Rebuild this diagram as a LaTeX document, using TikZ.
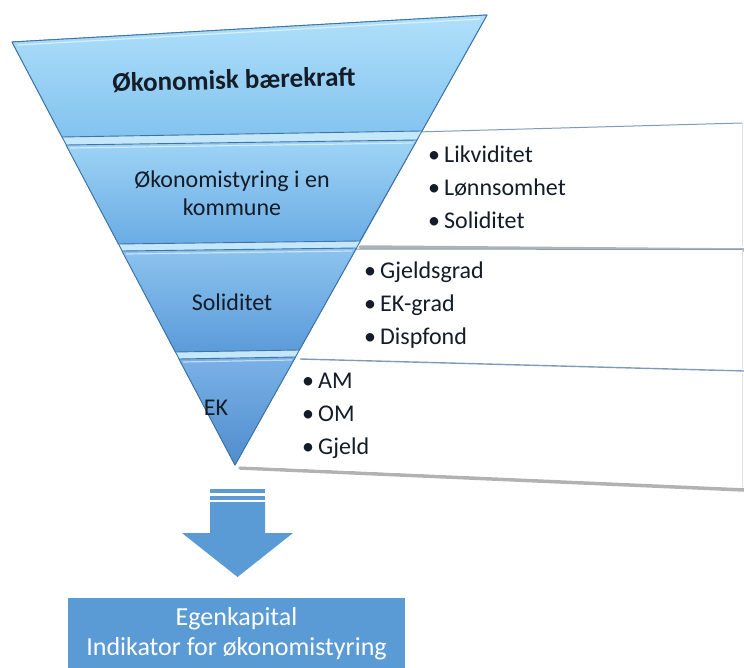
\documentclass[tikz,border=0pt]{standalone}
\usepackage{fontspec}
\setmainfont{Carlito}
\definecolor{bandline}{HTML}{3E73A8}
\definecolor{stripe}{HTML}{C4E7FA}
\definecolor{panelline}{HTML}{7E9BB8}
\definecolor{shadowgray}{HTML}{B2B2B2}
\definecolor{arrowblue}{HTML}{5B9BD5}
\definecolor{darktext}{HTML}{141C28}
\definecolor{bandAtop}{HTML}{B0E0FA}
\definecolor{bandAbot}{HTML}{82C3EF}
\definecolor{bandBtop}{HTML}{9FD4F5}
\definecolor{bandBbot}{HTML}{6AACE4}
\definecolor{bandCtop}{HTML}{8CC4EF}
\definecolor{bandCbot}{HTML}{5B9BD9}
\definecolor{bandDtop}{HTML}{7AB2E7}
\definecolor{bandDbot}{HTML}{518CCD}
\begin{document}
\begin{tikzpicture}[x=1pt,y=-1pt,line join=round,
  band/.style={draw=bandline,line width=0.9pt},
  bevel/.style={draw=white,opacity=0.55,line width=1.2pt},
  panelfill/.style={fill=white},
  paneledge/.style={draw=panelline,line width=1pt},
  shadowline/.style={draw=shadowgray,line width=3.5pt,line cap=round},
  levelText/.style={text=darktext,font=\fontsize{24}{28}\selectfont,align=center,inner sep=0pt},
  bulletList/.style={anchor=west,align=left,text=darktext,font=\fontsize{24}{33}\selectfont,inner sep=0pt},
  resultBox/.style={fill=arrowblue,text=white,minimum width=337pt,minimum height=72pt,
    inner sep=0pt,align=center,font=\fontsize{26}{30}\selectfont}]
\useasboundingbox (0,0) rectangle (744,668);
\newcommand\bul{\makebox[16pt][l]{\textbullet}}

% white side panels behind the funnel, with soft shadows
\draw[shadowline] (360,247) -- (744,250);
\fill[panelfill] (380,133) -- (742,123) -- (742,246) -- (350,244) -- cycle;
\draw[paneledge] (380,133) -- (742,123);
\draw[draw=gray!25,line width=0.6pt] (742,123) -- (742,246);
\draw[draw=panelline,line width=1.4pt] (300,359) -- (744,371);
\fill[panelfill] (320,249) -- (742,249) -- (742,369) -- (290,357) -- cycle;
\draw[paneledge] (330,249) -- (742,249.5);
\draw[draw=gray!25,line width=0.6pt] (742,250) -- (742,369);
\draw[shadowline] (240,468) -- (744,490);
\fill[panelfill] (260,361) -- (742,372) -- (742,487) -- (235,466) -- cycle;
\draw[draw=gray!25,line width=0.6pt] (742,373) -- (742,487);

% funnel body (its colour shows through the gaps between bands)
\filldraw[fill=stripe,draw=bandline,line width=0.9pt] (12,42) -- (487,15) -- (235,465) -- cycle;

% funnel bands
\path[band,top color=bandAtop,bottom color=bandAbot] (12,42) -- (487,15) -- (422,131) -- (62,137) -- cycle;
\path[band,top color=bandBtop,bottom color=bandBbot] (66,145) -- (417,140) -- (360,241) -- (118.5,244) -- cycle;
\path[band,top color=bandCtop,bottom color=bandCbot] (122,251) -- (356.5,248) -- (299.4,350) -- (175.4,352) -- cycle;
\path[band,top color=bandDtop,bottom color=bandDbot] (179,359) -- (295.5,357) -- (235,465) -- cycle;

% bevel highlights along the top of each band
\draw[bevel] (18,45) -- (480,19);
\draw[bevel] (70,148) -- (413,143);
\draw[bevel] (126,254) -- (352,251);
\draw[bevel] (183,362) -- (292,360);

% level labels
\node[levelText,font=\bfseries\fontsize{27}{30}\selectfont,rotate=1.5] (lvlA) at (234,80) {Økonomisk bærekraft};
\node[levelText] (lvlB) at (232,193) {Økonomistyring i en\\kommune};
\node[levelText] (lvlC) at (232,302) {Soliditet};
\node[levelText] (lvlD) at (216,408) {EK};

% bullet lists beside the funnel
\node[bulletList] (listA) at (428,187) {\bul Likviditet\\\bul Lønnsomhet\\\bul Soliditet};
\node[bulletList] (listB) at (364,305) {\bul Gjeldsgrad\\\bul EK-grad\\\bul Dispfond};
\node[bulletList] (listC) at (302,416) {\bul AM\\\bul OM\\\bul Gjeld};

% block arrow pointing down to the result
\fill[arrowblue] (210,489) rectangle (265,493);
\fill[arrowblue] (210,495.5) rectangle (265,500);
\fill[arrowblue] (210,502) -- (265,502) -- (265,533) -- (293,533) -- (237.5,577)
  -- (182,533) -- (210,533) -- cycle;

% result box
\node[resultBox] (result) at (236.5,634) {Egenkapital\\Indikator for økonomistyring};
\end{tikzpicture}
\end{document}
